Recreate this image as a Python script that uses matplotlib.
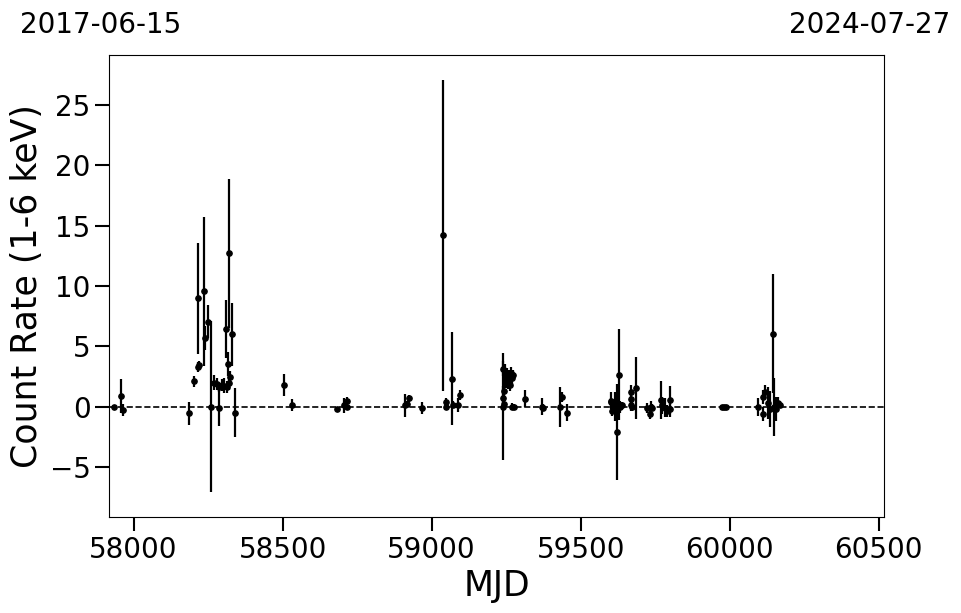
import numpy as np
import matplotlib.pyplot as plt

# light curve points (MJD, rate, 1-sigma error)
mjd = [57935, 57959, 57965,
       58187, 58203, 58217, 58220, 58217, 58237, 58238, 58251, 58259,
       58271, 58280, 58287, 58288, 58296, 58304, 58310, 58312, 58318,
       58319, 58321, 58324, 58329, 58341,
       58503, 58531, 58683, 58706, 58715, 58716,
       58910, 58916, 58925, 58968, 59038, 59047, 59048, 59069, 59070,
       59089, 59096,
       59238, 59239, 59240, 59242, 59244, 59246, 59249, 59252, 59255,
       59259, 59262, 59266, 59268, 59270, 59273, 59276,
       59313, 59369, 59373, 59430, 59439, 59455,
       59601, 59603, 59604, 59608, 59615, 59622, 59629, 59631, 59638,
       59668, 59669, 59670, 59671, 59684, 59723, 59734, 59735, 59740,
       59768, 59772, 59782, 59789, 59799, 59800,
       59973, 59980, 59986,
       60096, 60111, 60112, 60120, 60129, 60135, 60146, 60148, 60155,
       60161, 60168]
rate = [0.0, 0.9, -0.3,
        -0.55, 2.1, 3.3, 3.45, 9.0, 9.55, 5.7, 7.05, 0.0,
        2.0, 1.9, -0.1, 1.6, 1.8, 1.75, 6.45, 1.6, 3.5,
        1.95, 12.7, 2.45, 6.0, -0.5,
        1.8, 0.15, -0.2, 0.1, 0.5, 0.0,
        0.1, 0.2, 0.7, -0.1, 14.2, 0.4, 0.0, 2.3, 0.15,
        0.15, 0.95,
        0.0, 3.15, 0.75, 1.3, 0.2, 2.8, 2.15, 2.6, 2.0,
        2.3, 1.8, 2.8, 0.0, 2.4, 2.65, 0.0,
        0.65, 0.0, -0.1, 0.0, 0.8, -0.5,
        0.5, 0.35, -0.35, 0.0, 0.0, -2.1, 2.65, 0.0, 0.1,
        1.2, 0.65, 0.1, 0.0, 1.55, -0.1, -0.6, 0.0, -0.1,
        0.55, 0.1, -0.1, -0.4, 0.55, -0.2,
        0.0, -0.05, 0.0,
        0.0, 0.8, -0.6, 1.2, 0.3, -0.2, 6.05, 0.0, -0.2,
        0.3, 0.15]
err = [0.1, 1.4, 0.5,
       0.95, 0.45, 0.4, 0.35, 4.6, 6.2, 1.0, 1.4, 7.1,
       0.6, 0.5, 1.5, 0.4, 0.5, 0.6, 2.4, 0.5, 1.0,
       0.6, 6.2, 0.5, 2.6, 2.05,
       0.9, 0.5, 0.2, 0.6, 0.3, 0.3,
       0.95, 0.3, 0.3, 0.5, 12.9, 0.3, 0.3, 3.85, 0.3,
       0.6, 0.4,
       4.45, 0.6, 1.0, 0.8, 0.5, 0.7, 0.6, 0.6, 0.5,
       0.7, 0.5, 0.5, 0.3, 0.5, 0.4, 0.2,
       0.7, 0.7, 0.3, 1.65, 0.4, 0.7,
       0.7, 0.4, 0.4, 0.5, 1.2, 4.0, 3.8, 0.5, 0.3,
       0.6, 0.5, 0.5, 0.4, 2.55, 0.4, 0.4, 0.5, 0.3,
       1.6, 0.7, 0.8, 0.5, 1.2, 0.7,
       0.1, 0.1, 0.1,
       0.75, 0.6, 0.6, 0.6, 1.3, 1.5, 4.95, 2.4, 1.0,
       0.5, 0.3]

start_label = "2017-06-15"
end_label = "2024-07-27"
mjd_start, mjd_end = 57919, 60518

fig = plt.figure(figsize=(9.62, 6.13), dpi=100)
ax = fig.add_axes([0.1138, 0.1566, 0.8052, 0.7537])

ax.errorbar(mjd, rate, yerr=err, fmt='o', color='k', ms=3.8,
            elinewidth=1.6, capsize=0)
ax.axhline(0, color='k', ls='--', lw=1.2)

ax.set_xlim(mjd_start, mjd_end)
ax.set_ylim(-9.15, 29.15)
ax.set_yticks([-5, 0, 5, 10, 15, 20, 25])
ax.set_xticks([58000, 58500, 59000, 59500, 60000, 60500])
ax.tick_params(labelsize=20, length=10, width=1.5)

ax.set_xlabel("MJD", fontsize=25)
ax.set_ylabel("Count Rate (1-6 keV)", fontsize=25)

fig.text(20/962, 1 - 33/613, start_label, fontsize=20, ha='left', va='baseline')
fig.text(950/962, 1 - 33/613, end_label, fontsize=20, ha='right', va='baseline')

fig.savefig("out.png", dpi=100)
